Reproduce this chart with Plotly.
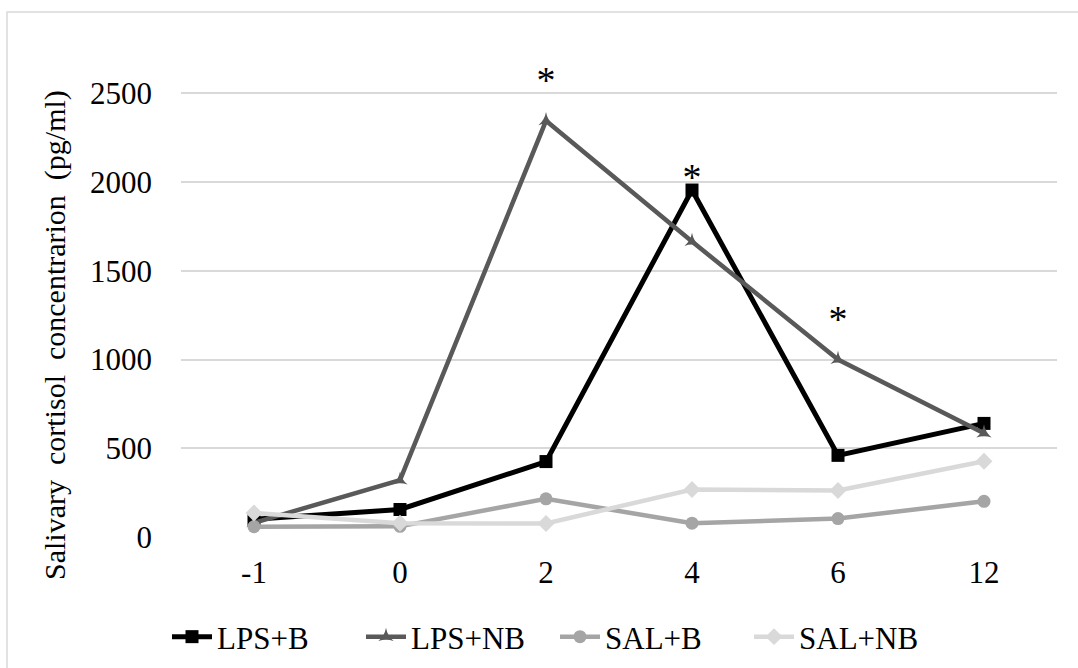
import plotly.graph_objects as go

hours = ["-1", "0", "2", "4", "6", "12"]
lps_b = [100, 155, 425, 1955, 460, 640]
lps_nb = [80, 320, 2345, 1665, 1000, 585]
sal_b = [58, 60, 215, 78, 104, 201]
sal_nb = [135, 78, 76, 268, 262, 427]
star_x = ["2", "4", "6"]
star_y = [2558, 2011, 1206]
y_ticks = [0, 500, 1000, 1500, 2000, 2500]
y_title = "Salivary  cortisol  concentrarion  (pg/ml)"

W, H = 1078, 668
L, R, T, B = 181, 21, 67, 131
pw, ph = W - L - R, H - T - B
y_top_px = 93.3  # pixel row of the 2500 gridline
ymax = 2500 * (H - B - T) / (H - B - y_top_px)

font = "Liberation Serif, Times New Roman, serif"
FS = 31

fig = go.Figure()
series = [
    ("LPS+B", lps_b, "#000000", "square", 13, 5),
    ("LPS+NB", lps_nb, "#595959", "star-triangle-up", 11, 4.5),
    ("SAL+B", sal_b, "#a5a5a5", "circle", 13, 4.5),
    ("SAL+NB", sal_nb, "#d9d9d9", "diamond", 13, 4.5),
]
for name, vals, col, sym, ms, lw in series:
    fig.add_trace(go.Scatter(
        x=hours, y=vals, name=name, mode="lines+markers",
        line=dict(color=col, width=lw),
        marker=dict(symbol=sym, size=ms, color=col),
        cliponaxis=False,
    ))

fig.add_trace(go.Scatter(
    x=star_x, y=star_y, mode="text", text=["*"] * len(star_x),
    textfont=dict(size=38, color="#000000", family=font),
    textposition="middle center", showlegend=False, cliponaxis=False,
    hoverinfo="skip",
))

def px2x(p):
    return (p - L) / pw

def py2y(p):
    return (H - B - p) / ph

fig.add_shape(type="rect", xref="paper", yref="paper",
              x0=px2x(7), x1=px2x(W + 10), y0=py2y(12), y1=py2y(H + 10),
              line=dict(color="#d9d9d9", width=1.5), fillcolor="rgba(0,0,0,0)",
              layer="below")

fig.add_annotation(xref="paper", yref="paper", x=px2x(55), y=py2y(335),
                   text=y_title, textangle=-90, showarrow=False,
                   xanchor="center", yanchor="middle",
                   font=dict(size=30, family=font, color="#000000"))

fig.update_layout(
    width=W, height=H,
    margin=dict(l=L, r=R, t=T, b=B, autoexpand=False),
    paper_bgcolor="white", plot_bgcolor="white",
    font=dict(family=font, size=FS, color="#000000"),
    showlegend=True,
    legend=dict(orientation="h", x=px2x(555), xanchor="center", y=py2y(637), yanchor="middle",
                font=dict(size=FS), itemwidth=40, traceorder="normal",
                entrywidth=139, entrywidthmode="pixels"),
)
fig.update_xaxes(type="category", range=[-0.5, 5.5], showgrid=False, showline=False,
                 zeroline=False, ticks="", ticklabelstandoff=14, tickfont=dict(size=FS))
fig.update_yaxes(range=[0, ymax], tickvals=y_ticks,
                 showgrid=True, gridcolor="#d9d9d9", gridwidth=1.5,
                 zeroline=False, showline=False, ticks="", ticklabelstandoff=28,
                 tickfont=dict(size=FS))

fig.write_html("out.html")
